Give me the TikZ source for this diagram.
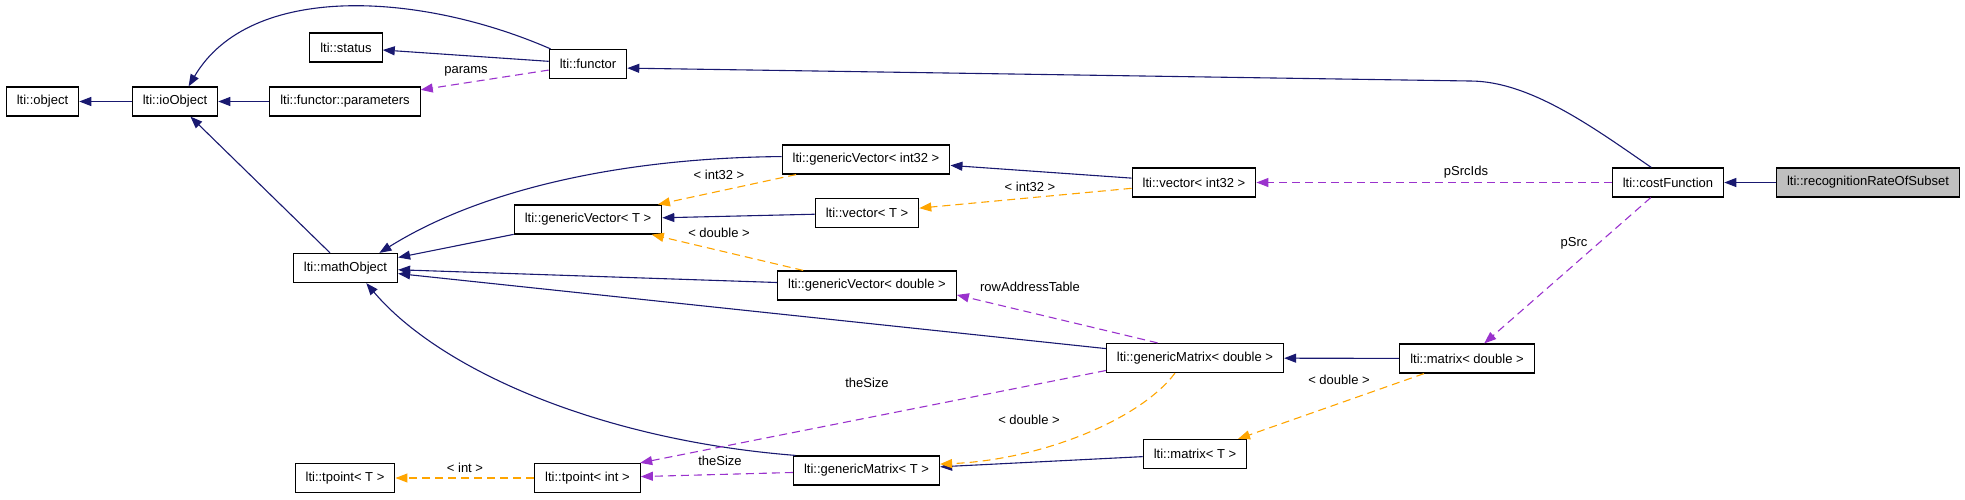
\documentclass[tikz,border=0pt]{standalone}
\usepackage{fontspec}
\setmainfont{Liberation Sans}
\usetikzlibrary{arrows.meta}
\definecolor{xanhdam}{RGB}{25,25,112}
\definecolor{cam}{RGB}{255,165,0}
\definecolor{tim}{RGB}{154,50,205}
\begin{document}
\begin{tikzpicture}[x=1pt,y=-1pt,font=\fontsize{13}{15}\selectfont]
	\useasboundingbox (0,0)rectangle(1965,499);
	\tikzset{hop/.style={draw,line width=1.2pt,fill=white,minimum height=29pt,inner xsep=10.5pt,inner ysep=0pt}}
	\tikzset{ke-thua/.style={xanhdam,line width=1.1pt,-{Triangle[length=12pt,width=9pt]}}}
	\tikzset{mau/.style={cam,line width=1.1pt,dash pattern=on 8pt off 5pt,-{Triangle[length=12pt,width=9pt]}}}
	\tikzset{dung/.style={tim,line width=1.1pt,dash pattern=on 8pt off 5pt,-{Triangle[length=12pt,width=9pt]}}}
	\tikzset{nhan/.style={inner sep=0pt}}
	% cac lop
	\foreach \ten/\x/\y/\chu in {object/42.5/101.5/lti::object,ioObject/175/101.5/lti::ioObject,
		fparams/345/101.5/lti::functor::parameters,status/346/47.5/lti::status,functor/588/64/lti::functor,
		gvT/588/219.5/lti::genericVector< T >,mathObj/345.5/268/lti::mathObject,
		gvInt/866/159.5/lti::genericVector< int32 >,vecInt/1194/182.5/lti::vector< int32 >,
		vecT/867/213/lti::vector< T >,gvDbl/867/285.5/lti::genericVector< double >,
		costF/1668/182.5/lti::costFunction,matDbl/1467/358.5/lti::matrix< double >,
		gmDbl/1195/358/lti::genericMatrix< double >,matT/1195/454/lti::matrix< T >,
		gmT/866.5/470.5/lti::genericMatrix< T >,tpT/345/478/lti::tpoint< T >,tpInt/587.5/478/lti::tpoint< int >}
	\node[hop] (\ten) at (\x,\y) {\chu};
	\node[hop,fill=gray!50] (recog) at (1868,182.5) {lti::recognitionRateOfSubset};
	% ke thua
	\foreach \a/\b in {ioObject/object,fparams/ioObject,functor/status,mathObj/ioObject,gvT/mathObj,
		gvDbl/mathObj,gmDbl/mathObj,vecInt/gvInt,vecT/gvT,matDbl/gmDbl,matT/gmT,recog/costF}
	\draw[ke-thua] (\a)--(\b);
	\draw[ke-thua] (functor.158)..controls(420,-8)and(250,-18)..(ioObject.48);
	\draw[ke-thua] (costF.138)..controls(1594,128)and(1530,81)..(1470,81)--(functor.-6);
	\draw[ke-thua] (gvInt.178)..controls(620,158)and(480,190)..(mathObj.24);
	\draw[ke-thua] (gmT.168)..controls(600,440)and(440,370)..(mathObj.-36);
	% mau
	\foreach \a/\b in {gvInt/gvT,vecInt/vecT,gvDbl/gvT,matDbl/matT,tpInt/tpT}
	\draw[mau] (\a)--(\b);
	\draw[mau] (gmDbl.217)..controls(1140,420)and(1040,460)..(gmT.5);
	% thanh vien
	\foreach \a/\b in {functor/fparams,costF/vecInt,costF/matDbl,gmDbl.158/gvDbl.-6,gmDbl.188/tpInt.16,gmT/tpInt}
	\draw[dung] (\a)--(\b);
	% nhan
	\foreach \ten/\x/\y/\chu in {lbParams/466/71.7/params,lbInt32a/719/175/< int32 >,lbInt32b/1030/187/< int32 >,
		lbDblA/719/233/< double >,lbRow/1030/287/rowAddressTable,lbSrcIds/1466/172.3/pSrcIds,
		lbSrc/1574/243/pSrc,lbSizeA/867/383/theSize,lbDblB/1029/420/< double >,lbDblC/1339/380/< double >,
		lbSizeB/720/460.7/theSize,lbInt/465/468.3/< int >}
	\node[nhan] (\ten) at (\x,\y) {\chu};
\end{tikzpicture}
\end{document}
